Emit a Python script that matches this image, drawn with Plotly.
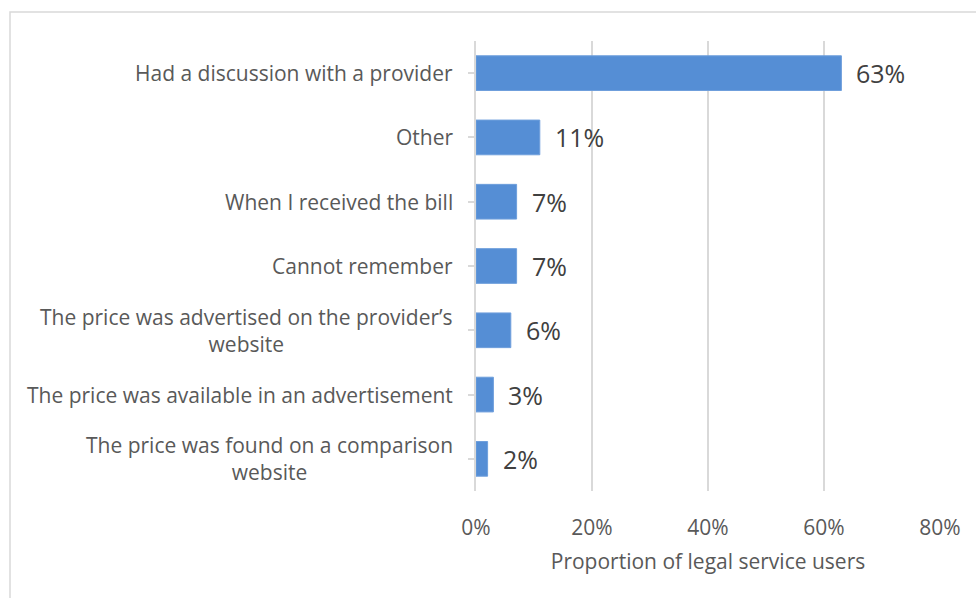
import plotly.graph_objects as go

# Survey responses: when the price of the legal service became known
categories = [
    "Had a discussion with a provider",
    "Other",
    "When I received the bill",
    "Cannot remember",
    "The price was advertised on the provider\u2019s<br>website",
    "The price was available in an advertisement",
    "The price was found on a comparison<br>website",
]
shares = [0.63, 0.11, 0.07, 0.07, 0.06, 0.03, 0.02]
x_ticks = [0, 0.2, 0.4, 0.6, 0.8]
x_tick_labels = ["0%", "20%", "40%", "60%", "80%"]

W, H = 976, 598
ML, MR, MT, MB = 476, 36, 41, 107
FONT = "Open Sans"
LABEL_COLOR = "#595959"
GRID = "#d9d9d9"

y_idx = list(range(len(categories)))

fig = go.Figure()
fig.add_trace(go.Bar(
    x=shares,
    y=y_idx,
    orientation="h",
    width=0.54,
    marker=dict(color="#558ed5", line=dict(color="#6f9fdc", width=1)),
    hoverinfo="skip",
))

annotations = []
# value labels to the right of each bar
for i, v in enumerate(shares):
    annotations.append(dict(
        x=v, y=i, xref="x", yref="y", text=f"{round(v * 100)}%",
        showarrow=False, xanchor="left", yanchor="middle", xshift=13,
        font=dict(family=FONT, size=25, color="#404040"),
    ))
# category labels, centred line by line
for i, c in enumerate(categories):
    annotations.append(dict(
        x=0, y=i, xref="paper", yref="y", text=c,
        showarrow=False, xanchor="right", yanchor="middle", xshift=-21,
        align="center",
        font=dict(family=FONT, size=21, color=LABEL_COLOR),
    ))

pw = W - ML - MR
ph = H - MT - MB
# light frame around the chart area
frame = dict(
    type="rect", xref="paper", yref="paper",
    x0=(10 - ML) / pw, x1=(W + 10 - ML) / pw,
    y0=-(H + 10 - MT - ph) / ph, y1=1 + (MT - 12) / ph,
    line=dict(color=GRID, width=1.5), fillcolor="rgba(0,0,0,0)", layer="below",
)

fig.update_layout(
    width=W, height=H,
    margin=dict(l=ML, r=MR, t=MT, b=MB),
    paper_bgcolor="white", plot_bgcolor="white",
    showlegend=False,
    annotations=annotations,
    shapes=[frame],
    xaxis=dict(
        range=[0, 0.8], tickvals=x_ticks, ticktext=x_tick_labels,
        showgrid=True, gridcolor=GRID, gridwidth=1.5,
        zeroline=False, showline=False, ticks="",
        ticklabelstandoff=22,
        tickfont=dict(family=FONT, size=21, color=LABEL_COLOR),
        title=dict(text="Proportion of legal service users", standoff=14,
                   font=dict(family=FONT, size=21, color=LABEL_COLOR)),
        fixedrange=True,
    ),
    yaxis=dict(
        range=[len(categories) - 0.5, -0.5],
        tickvals=y_idx, showticklabels=False,
        ticks="outside", tickson="boundaries", ticklen=6,
        tickcolor=GRID, tickwidth=1.5,
        showline=True, linecolor=GRID, linewidth=1.5,
        showgrid=False, zeroline=False, fixedrange=True,
    ),
)

fig.write_html("out.html")
